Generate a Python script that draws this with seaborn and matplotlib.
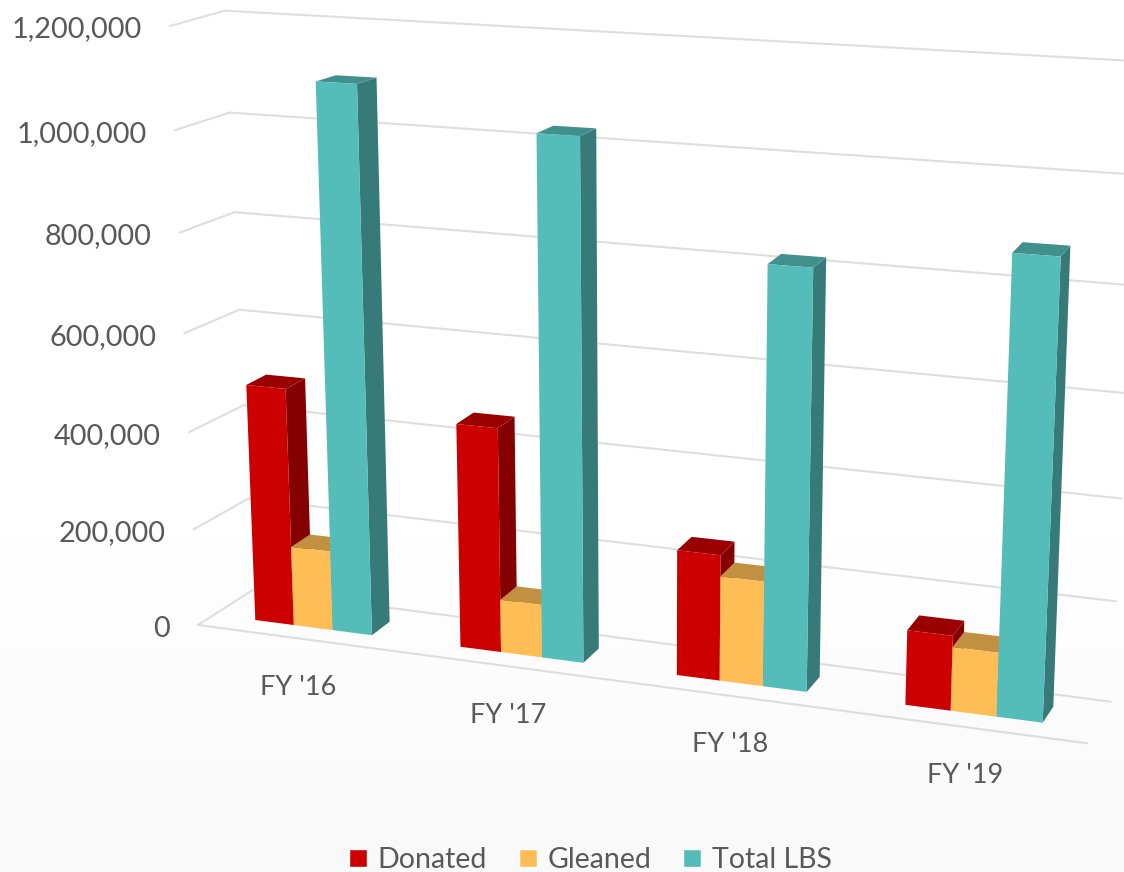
import matplotlib
matplotlib.use('Agg')
import matplotlib.pyplot as plt
import matplotlib.transforms as mtransforms
from matplotlib.patches import Patch, Polygon
import numpy as np
import pandas as pd
import seaborn as sns

years = ["FY '16", "FY '17", "FY '18", "FY '19"]
donated = [491000, 455000, 251000, 147000]
gleaned = [165000, 108000, 209000, 125000]
total_lbs = [1103000, 1031000, 818000, 873000]
kinds = ['Donated', 'Gleaned', 'Total LBS']
colors = ['#CC0000', '#FFBE55', '#55BDB9']
y_ticks = [0, 200000, 400000, 600000, 800000, 1000000, 1200000]

TOP = 1200000
BAR_WIDTH = 0.575
GRID = '#DEDEDE'
TEXT = '#595959'


# maps flat coords to image pixels, fitted from four corners
class Homography(mtransforms.Transform):
    input_dims = 2
    output_dims = 2

    def __init__(self, src, dst):
        super().__init__()
        rows = []
        for (x, y), (u, v) in zip(src, dst):
            rows.append([x, y, 1, 0, 0, 0, -u * x, -u * y, -u])
            rows.append([0, 0, 0, x, y, 1, -v * x, -v * y, -v])
        self.h = np.linalg.svd(np.array(rows, dtype=float))[2][-1].reshape(3, 3)

    def transform_non_affine(self, values):
        values = np.asarray(values, dtype=float)
        p = np.column_stack([values, np.ones(len(values))]) @ self.h.T
        return p[:, :2] / p[:, 2:]


def corners(x0, x1):
    return [(x0, 0), (x1, 0), (x0, TOP), (x1, TOP)]


x0, x1 = -BAR_WIDTH / 2, 3 + BAR_WIDTH / 2
front = Homography(corners(x0, x1), [(255.3, 620), (1042.7, 722.7), (232.5, 26), (1067.9, 70.7)])
back = Homography(corners(x0, x1), [(274.3, 607), (1053.3, 706.7), (254, 21), (1077.2, 62.7)])
back_wall = Homography(corners(0, 1), [(252.7, 590), (1110.7, 701.7), (225, 10.7), (1144, 61.5)])


# near edge of the left wall, value to pixel
def wall_edge(v):
    k = 0.05
    t = v / TOP
    t = t * (1 - k) / (1 - k * t)
    return 198 - 28 * t, 625 - 599 * t


df = pd.DataFrame({
    'year': years * 3,
    'kind': np.repeat(kinds, 4),
    'lbs': donated + gleaned + total_lbs,
})

sns.set_theme(style='white')
plt.rcParams['font.family'] = ['Lato', 'DejaVu Sans']

fig = plt.figure(figsize=(11.24, 8.72), dpi=100)

# faint grey wash towards the bottom of the picture
bg = fig.add_axes([0, 0, 1, 1], zorder=-1)
wash = 1 - 0.027 * np.clip((np.linspace(0, 1, 200) - 0.55) / 0.45, 0, 1).reshape(-1, 1)
bg.imshow(wash, aspect='auto', cmap='gray', vmin=0, vmax=1, interpolation='bilinear')
bg.axis('off')

ax = fig.add_axes([0, 0, 1, 1])
ax.patch.set_alpha(0)
sns.barplot(df, x='year', y='lbs', hue='kind', palette=colors, width=BAR_WIDTH, gap=0,
            saturation=1, legend=False, ax=ax)
ax.axis('off')

px = mtransforms.Affine2D().scale(1 / 1124, -1 / 872).translate(0, 1) + fig.transFigure
front_tf = front + px
back_wall_tf = back_wall + px

# gridlines on the two walls
for v in y_ticks:
    ax.plot([0, 1], [v, v], color=GRID, lw=1.5, transform=back_wall_tf, clip_on=False, zorder=1)
    ex, ey = wall_edge(v)
    cx, cy = back_wall.transform(np.array([[0.0, v]]))[0]
    ax.plot([ex, cx], [ey, cy], color=GRID, lw=1.5, transform=px, clip_on=False, zorder=1,
            solid_capstyle='round')
    ax.annotate(f'{v:,}', xy=(ex, ey), xycoords=px, xytext=(-28, -3.5),
                textcoords='offset pixels', ha='right', va='center', fontsize=20.8, color=TEXT)

# front edge of the floor
ax.plot([198, 1087], [625, 743.3], color=GRID, lw=1.5, transform=px, clip_on=False, zorder=1)


def shade(color, f):
    return tuple(c * f for c in matplotlib.colors.to_rgb(color))


# the bars come from seaborn, top and side faces are added from their rectangles
for h, container in enumerate(ax.containers):
    for g, bar in enumerate(container.patches):
        z = 10 + g * 10 + h * 3
        bar.set_transform(front_tf)
        bar.set_clip_on(False)
        bar.set_linewidth(0)
        bar.set_zorder(z + 2)
        left, right, height = bar.get_x(), bar.get_x() + bar.get_width(), bar.get_height()
        top_face = np.vstack([front.transform(np.array([[left, height], [right, height]])),
                              back.transform(np.array([[right, height], [left, height]]))])
        side_face = np.vstack([front.transform(np.array([[right, height], [right, 0]])),
                               back.transform(np.array([[right, 0], [right, height]]))])
        ax.add_patch(Polygon(top_face, closed=True, facecolor=shade(colors[h], 0.76), lw=0,
                             transform=px, clip_on=False, zorder=z + 1))
        ax.add_patch(Polygon(side_face, closed=True, facecolor=shade(colors[h], 0.65), lw=0,
                             transform=px, clip_on=False, zorder=z))

for i, name in enumerate(years):
    ax.annotate(name, xy=(i, 0), xycoords=front_tf, xytext=(-15 + 2.1 * i, -60.3 - 0.6 * i),
                textcoords='offset pixels', ha='center', va='center', fontsize=19.5, color=TEXT)

handles = [Patch(facecolor=c) for c in colors]
fig.legend(handles, kinds, loc='center', bbox_to_anchor=(590.5 / 1124, 1 - 860 / 872), ncols=3,
           frameon=False, fontsize=20.5, labelcolor=TEXT, handlelength=0.63, handleheight=0.56,
           handletextpad=0.38, columnspacing=1.12, borderpad=0, borderaxespad=0)

fig.savefig('out.png', dpi=100)
